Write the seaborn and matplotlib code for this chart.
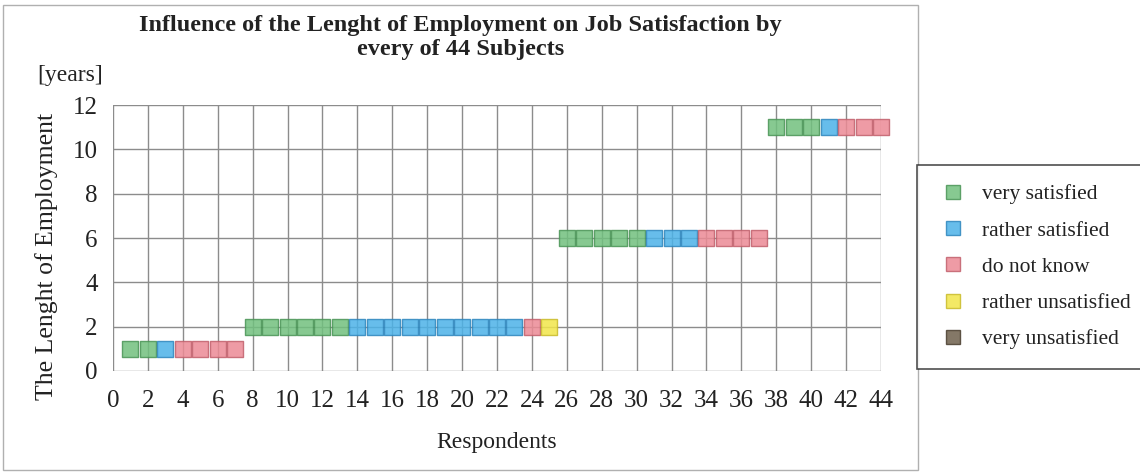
import matplotlib
matplotlib.use("Agg")
import matplotlib.pyplot as plt
from matplotlib.lines import Line2D
from matplotlib.patches import Rectangle
import seaborn as sns
import pandas as pd

# Length of employment (years) per respondent, and each respondent's answer
respondents = list(range(1, 45))
years = [1] * 7 + [2] * 18 + [6] * 12 + [11] * 7
answers = (
    ["very satisfied"] * 2 + ["rather satisfied"] + ["do not know"] * 4
    + ["very satisfied"] * 6 + ["rather satisfied"] * 10 + ["do not know"] + ["rather unsatisfied"]
    + ["very satisfied"] * 5 + ["rather satisfied"] * 3 + ["do not know"] * 4
    + ["very satisfied"] * 3 + ["rather satisfied"] + ["do not know"] * 3
)
levels = ["very satisfied", "rather satisfied", "do not know",
          "rather unsatisfied", "very unsatisfied"]
face_colors = ["#72c07e", "#4cb2e8", "#ec8a95", "#f2e64a", "#6e604c"]
edge_colors = ["#4a9456", "#2f86bd", "#c2606c", "#c9bb2a", "#4a3f30"]

x_ticks = list(range(0, 45, 2))
y_ticks = list(range(0, 13, 2))

df = pd.DataFrame({"Respondent": respondents, "Years": years, "Answer": answers})

sns.set_theme(style="white")
plt.rcParams["font.family"] = ["Liberation Serif", "DejaVu Serif"]

fig = plt.figure(figsize=(11.4, 4.72), dpi=100)
ax = fig.add_axes([0.0991, 0.2140, 0.6737, 0.5635])

palette = dict(zip(levels, face_colors))
edges = dict(zip(levels, edge_colors))
for lvl in levels:
    sub = df[df["Answer"] == lvl]
    if sub.empty:
        continue
    sns.scatterplot(data=sub, x="Respondent", y="Years", ax=ax, marker="s", s=132,
                    color=palette[lvl], edgecolor=edges[lvl], linewidth=1.0,
                    alpha=0.85, zorder=3, legend=False, clip_on=False)

ax.set_xlim(0, 44)
ax.set_ylim(0, 12)
ax.set_xticks(x_ticks)
ax.set_yticks(y_ticks)
ax.grid(True, color="#8c8c8c", linewidth=1.0, zorder=1)
for side in ["left", "bottom", "top", "right"]:
    ax.spines[side].set_visible(False)
ax.tick_params(axis="both", direction="out", length=7, width=1.0, color="#8c8c8c",
               labelsize=18, labelcolor="#222222", pad=4)
ax.tick_params(axis="x", length=5, pad=9)

ax.set_xlabel("Respondents", fontsize=17, color="#222222", labelpad=14)
ax.set_ylabel("The Lenght of Employment", fontsize=18.5, color="#222222")
ax.yaxis.set_label_coords(-0.072, 0.43)

fig.text(0.404, 0.968, "Influence of the Lenght of Employment on Job Satisfaction by\nevery of 44 Subjects",
         ha="center", va="top", fontsize=17.5, fontweight="bold", color="#222222",
         linespacing=1.2)
fig.text(0.033, 0.84, "[years]", ha="left", va="center", fontsize=17, color="#222222")

# chart area frame
fig.patches.append(Rectangle((3 / 1140, 2 / 472), 915 / 1140, 465 / 472,
                             transform=fig.transFigure, fill=False,
                             edgecolor="#b0b0b0", linewidth=1.0))

handles = [Line2D([0], [0], marker="s", linestyle="none", markersize=10,
                  markerfacecolor=fc, markeredgecolor=ec, alpha=0.85)
           for fc, ec in zip(face_colors, edge_colors)]
leg = fig.legend(handles, levels, loc="upper left", bbox_to_anchor=(917 / 1140, 1 - 165 / 472),
                 fontsize=15.5, frameon=True, fancybox=False, borderpad=0.9,
                 labelspacing=0.75, handletextpad=0.6, handlelength=1.5,
                 borderaxespad=0)
leg.get_frame().set_edgecolor("#222222")
leg.get_frame().set_linewidth(1.2)
for t in leg.get_texts():
    t.set_color("#222222")

fig.savefig("out.png", dpi=100, facecolor="white")
